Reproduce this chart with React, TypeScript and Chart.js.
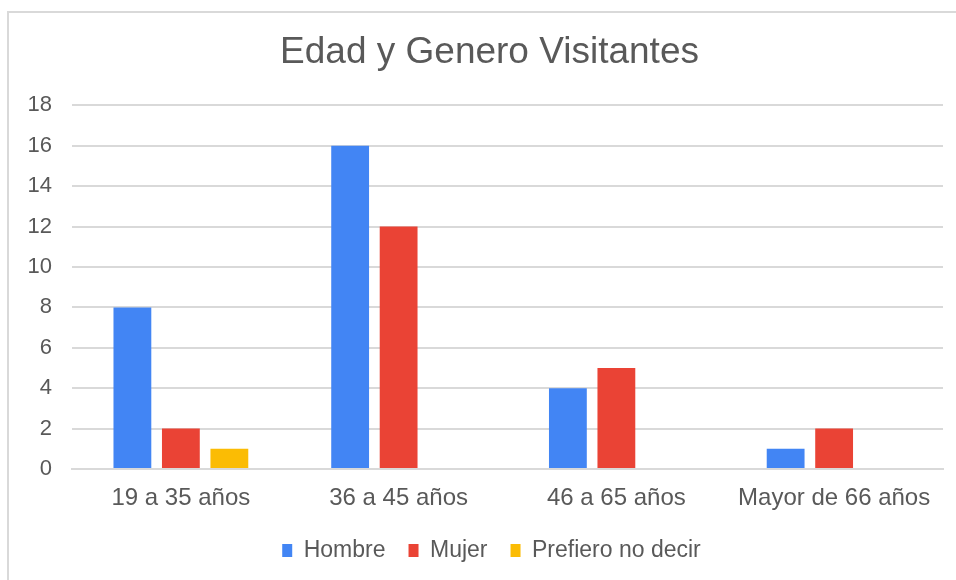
import React, { useEffect, useRef } from "react";
import { Chart, registerables } from "chart.js";

Chart.register(...registerables);

const categories = ["19 a 35 años", "36 a 45 años", "46 a 65 años", "Mayor de 66 años"];
const hombre = [8, 16, 4, 1];
const mujer = [2, 12, 5, 2];
const prefiero = [1, 0, 0, 0];
const seriesNames = ["Hombre", "Mujer", "Prefiero no decir"];
const title = "Edad y Genero Visitantes";

const FONT = "'Liberation Sans', Arial, sans-serif";
const TEXT = "#595959";
const GRID = "#d9d9d9";

const blockShift = {
  id: "blockShift",
  afterLayout(chart: any) {
    if (chart.legend) {
      chart.legend.left += 20;
      chart.legend.right += 20;
    }
    if (chart.titleBlock) {
      chart.titleBlock.left += 18;
      chart.titleBlock.right += 18;
    }
  },
};

export default function App() {
  const ref = useRef<HTMLCanvasElement | null>(null);
  useEffect(() => {
    if (!ref.current) return;
    const chart = new Chart(ref.current, {
      type: "bar",
      data: {
        labels: categories,
        datasets: [
          { label: seriesNames[0], data: hombre, backgroundColor: "#4285F4" },
          { label: seriesNames[1], data: mujer, backgroundColor: "#EA4335" },
          { label: seriesNames[2], data: prefiero, backgroundColor: "#FBBC04" },
        ],
      },
      plugins: [blockShift],
      options: {
        animation: false,
        responsive: false,
        maintainAspectRatio: false,
        layout: { padding: { top: 12, right: 13, left: 0, bottom: 8 } },
        datasets: { bar: { barPercentage: 0.78, categoryPercentage: 0.668 } },
        plugins: {
          title: {
            display: true,
            text: title,
            color: TEXT,
            font: { family: FONT, size: 37, weight: "normal" },
            padding: { top: 19, bottom: 30 },
          },
          legend: {
            position: "bottom",
            labels: {
              color: TEXT,
              font: { family: FONT, size: 23 },
              boxWidth: 10,
              boxHeight: 13,
              padding: 23,
            },
          },
          tooltip: { enabled: false },
        },
        scales: {
          x: {
            grid: { display: false, drawTicks: false },
            border: { color: GRID, width: 2 },
            ticks: { color: TEXT, font: { family: FONT, size: 24 }, padding: 15, maxRotation: 0, autoSkip: false },
            afterFit: (axis: any) => { axis.height = 47; },
          },
          y: {
            min: 0,
            max: 18,
            grid: { color: GRID, lineWidth: 2, drawTicks: false },
            border: { display: false },
            ticks: { stepSize: 2, color: TEXT, font: { family: FONT, size: 22 }, padding: 20 },
            afterFit: (axis: any) => { axis.width = 72; },
          },
        },
      },
    });
    return () => chart.destroy();
  }, []);
  return (
    <div style={{ position: "fixed", left: 0, top: 0, width: 956, height: 580, overflow: "hidden", background: "#fff" }}>
      <div style={{ position: "absolute", left: 7, top: 11, width: 1000, height: 1000, borderLeft: "2px solid #d9d9d9", borderTop: "2px solid #d9d9d9" }} />
      <canvas ref={ref} width={956} height={580} style={{ position: "absolute", left: 0, top: 0, width: 956, height: 580 }} />
    </div>
  );
}
